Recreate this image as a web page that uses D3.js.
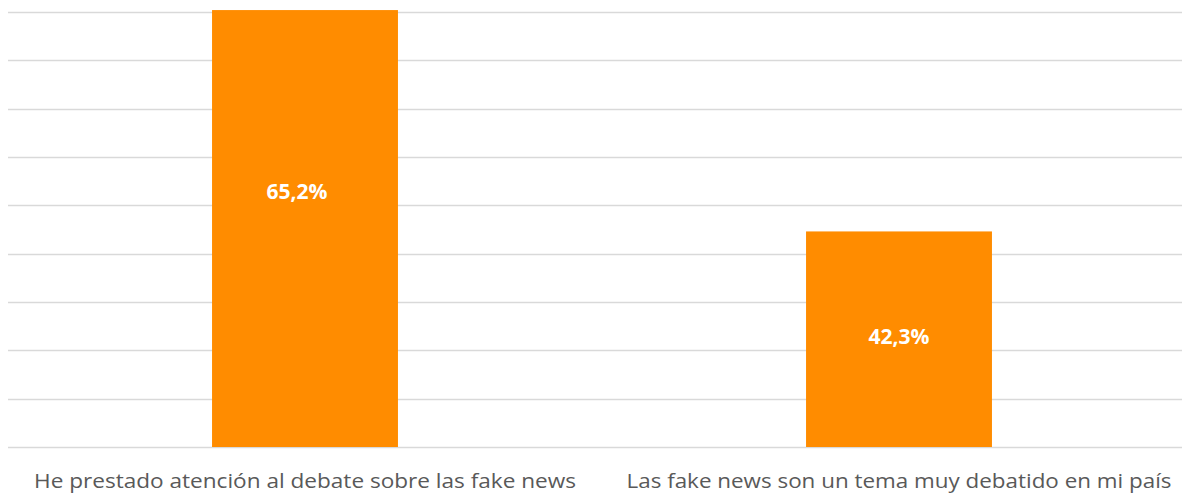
<!DOCTYPE html>
<html>
<head>
<meta charset="utf-8">
<script src="https://cdn.jsdelivr.net/npm/d3@7"></script>
<style>
    body { margin: 0; background: #ffffff; }
    svg { display: block; }
    .grid line { stroke: #d9d9d9; stroke-width: 1.3; }
    .cat-label { fill: #595959; font-family: "Open Sans", sans-serif; font-size: 20px; }
    .bar-label { fill: #ffffff; font-family: "Open Sans", sans-serif; font-size: 21px; font-weight: bold; }
</style>
</head>
<body>
<div id="chart"></div>
<script>
// Data
var categories = [
    'He prestado atención al debate sobre las fake news',
    'Las fake news son un tema muy debatido en mi país'
];
var values = [65.2, 42.3];
var valueLabels = ['65,2%', '42,3%'];

// axis starts at 20%, gridline every 5%
var yTicks = [20, 25, 30, 35, 40, 45, 50, 55, 60, 65];

// layout
var width = 1182, height = 493;
var plot = { left: 8, right: 1196, top: 12, bottom: 447 };
var barRatio = 0.313;
// manual nudges of the value labels (as in the source chart)
var labelOffsets = [[-8, -38], [0, -3]];
var catLabelWidths = [542, 545];

var svg = d3.select('#chart').append('svg')
    .attr('width', width)
    .attr('height', height);

var x = d3.scaleBand()
    .domain(categories)
    .range([plot.left, plot.right])
    .padding(0);

var y = d3.scaleLinear()
    .domain([20, 65])
    .range([plot.bottom, plot.top]);

// gridlines
svg.append('g')
    .attr('class', 'grid')
    .selectAll('line')
    .data(yTicks)
    .enter().append('line')
        .attr('x1', plot.left)
        .attr('x2', width)
        .attr('y1', function(d) { return Math.round(y(d)) + 0.5; })
        .attr('y2', function(d) { return Math.round(y(d)) + 0.5; });

var barWidth = x.bandwidth() * barRatio;

// bars
svg.selectAll('.bar')
    .data(values)
    .enter().append('rect')
        .attr('class', 'bar')
        .attr('x', function(d, i) {
            return x(categories[i]) + (x.bandwidth() - barWidth) / 2;
        })
        .attr('y', function(d) { return y(d); })
        .attr('width', barWidth)
        .attr('height', function(d) { return y(20) - y(d); })
        .style('fill', '#ff8c00');

// value labels inside the bars
svg.selectAll('.bar-label')
    .data(values)
    .enter().append('text')
        .attr('class', 'bar-label')
        .attr('text-anchor', 'middle')
        .attr('dominant-baseline', 'central')
        .attr('x', function(d, i) {
            return x(categories[i]) + x.bandwidth() / 2 + labelOffsets[i][0];
        })
        .attr('y', function(d, i) {
            return (y(d) + y(20)) / 2 + labelOffsets[i][1];
        })
        .text(function(d, i) { return valueLabels[i]; });

// category labels
svg.selectAll('.cat-label')
    .data(categories)
    .enter().append('text')
        .attr('class', 'cat-label')
        .attr('text-anchor', 'middle')
        .attr('x', function(d) { return x(d) + x.bandwidth() / 2; })
        .attr('y', 488)
        .attr('textLength', function(d, i) { return catLabelWidths[i]; })
        .attr('lengthAdjust', 'spacingAndGlyphs')
        .text(function(d) { return d; });
</script>
</body>
</html>
